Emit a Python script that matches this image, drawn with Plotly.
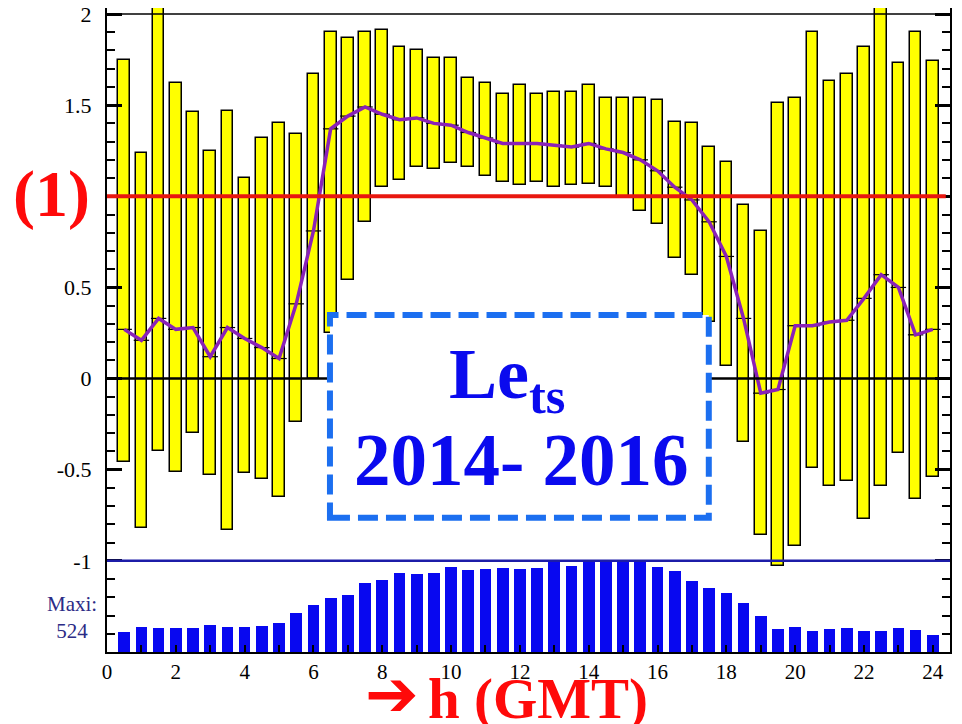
import plotly.graph_objects as go

# half-hour bins (GMT)
hours = [0.5, 1.0, 1.5, 2.0, 2.5, 3.0, 3.5, 4.0, 4.5, 5.0, 5.5, 6.0,
         6.5, 7.0, 7.5, 8.0, 8.5, 9.0, 9.5, 10.0, 10.5, 11.0, 11.5, 12.0,
         12.5, 13.0, 13.5, 14.0, 14.5, 15.0, 15.5, 16.0, 16.5, 17.0, 17.5, 18.0,
         18.5, 19.0, 19.5, 20.0, 20.5, 21.0, 21.5, 22.0, 22.5, 23.0, 23.5, 24.0]

# max / min / mean of Le_ts per bin
le_max = [1.75, 1.24, 2.04, 1.62, 1.46, 1.25, 1.47, 1.10, 1.32, 1.40, 1.34, 1.67,
          1.90, 1.87, 1.90, 1.91, 1.82, 1.80, 1.76, 1.76, 1.65, 1.62, 1.56, 1.61,
          1.56, 1.57, 1.57, 1.61, 1.54, 1.54, 1.54, 1.53, 1.41, 1.40, 1.27, 1.19,
          0.95, 0.81, 1.51, 1.54, 1.90, 1.63, 1.67, 1.82, 2.15, 1.73, 1.90, 1.74]
le_min = [-0.46, -0.82, -0.40, -0.51, -0.30, -0.53, -0.83, -0.52, -0.55, -0.65, -0.24, 0.00,
          0.25, 0.54, 0.86, 1.05, 1.09, 1.16, 1.15, 1.18, 1.16, 1.11, 1.08, 1.06,
          1.08, 1.05, 1.06, 1.07, 1.05, 0.99, 0.92, 0.85, 0.66, 0.57, 0.31, 0.07,
          -0.35, -0.86, -1.03, -0.92, -0.49, -0.59, -0.56, -0.77, -0.59, -0.41, -0.66, -0.54]
le_mean = [0.27, 0.21, 0.33, 0.27, 0.28, 0.12, 0.28, 0.22, 0.17, 0.11, 0.41, 0.81,
           1.37, 1.44, 1.49, 1.45, 1.42, 1.43, 1.40, 1.39, 1.35, 1.32, 1.29, 1.29,
           1.29, 1.28, 1.27, 1.29, 1.26, 1.24, 1.20, 1.14, 1.05, 0.98, 0.86, 0.67,
           0.33, -0.08, -0.06, 0.29, 0.29, 0.31, 0.32, 0.44, 0.57, 0.50, 0.24, 0.27]

# number of samples per bin (max 524)
counts = [115, 144, 138, 138, 138, 156, 144, 144, 150, 167, 225, 270,
          311, 328, 397, 414, 455, 449, 455, 489, 472, 477, 484, 477,
          484, 524, 495, 524, 524, 524, 524, 489, 466, 409, 367, 340,
          282, 208, 133, 144, 121, 133, 138, 121, 121, 138, 127, 98]

y_ticks = [-1, -0.5, 0, 0.5, 1, 1.5, 2]
y_labels = ["-1", "-0.5", "0", "0.5", "1", "1.5", "2"]

Y_BOT, Y_TOP = -1.5, 2.033
SERIF = "Liberation Serif"

max_count = max(counts)
count_h = [c / max_count * 0.5 for c in counts]

fig = go.Figure()

# counts panel at the bottom (-1.5 .. -1)
fig.add_trace(go.Bar(
    x=hours, y=count_h, base=Y_BOT, width=0.34,
    marker=dict(color="#0808f0", line=dict(width=0)),
    showlegend=False, hoverinfo="skip"
))

# yellow min-max bars
fig.add_trace(go.Bar(
    x=hours, y=[hi - lo for hi, lo in zip(le_max, le_min)], base=le_min, width=0.34,
    marker=dict(color="#ffff00", line=dict(color="black", width=1.5)),
    showlegend=False
))

# mean ticks + line
fig.add_trace(go.Scatter(
    x=hours, y=le_mean, mode="markers",
    marker=dict(symbol="line-ew", size=11, line=dict(color="black", width=1.2)),
    showlegend=False
))
fig.add_trace(go.Scatter(
    x=hours, y=le_mean, mode="lines",
    line=dict(color="#8a22b8", width=3.5),
    showlegend=False
))

# reference lines
fig.add_shape(type="line", xref="paper", x0=0, x1=1, y0=2, y1=2,
              line=dict(color="black", width=1.5), layer="above")
fig.add_shape(type="line", xref="paper", x0=0, x1=0.995, y0=1, y1=1,
              line=dict(color="#e8170f", width=4), layer="above")
fig.add_shape(type="line", xref="paper", x0=0, x1=1, y0=0, y1=0,
              line=dict(color="black", width=2.5), layer="above")
fig.add_shape(type="line", xref="paper", x0=0, x1=1, y0=-1, y1=-1,
              line=dict(color="#1c1ca8", width=2.5), layer="above")

# dashed label box
fig.add_shape(type="rect", x0=6.48, x1=17.49, y0=-0.764, y1=0.349,
              line=dict(color="#1c6ff0", width=6, dash="20px,8px"),
              fillcolor="white", layer="above")

fig.add_annotation(x=11.62, y=0.0, xref="x", yref="y",
                   xanchor="center", yanchor="middle",
                   text="<b>Le<sub>ts</sub></b>", showarrow=False,
                   font=dict(family=SERIF, size=72, color="#0a0aee"))
fig.add_annotation(x=12.06, y=-0.451, xref="x", yref="y",
                   xanchor="center", yanchor="middle",
                   text="<b>2014- 2016</b>", showarrow=False,
                   font=dict(family=SERIF, size=73, color="#0a0aee"))

fig.add_annotation(x=-0.0664, y=1.013, xref="paper", yref="y",
                   xanchor="center", yanchor="middle",
                   text="<b>(1)</b>", showarrow=False, bgcolor="white", borderpad=6,
                   font=dict(family=SERIF, size=66, color="#ff0a0a"))
fig.add_annotation(x=-0.0415, y=-1.312, xref="paper", yref="y",
                   xanchor="center", yanchor="middle",
                   text="Maxi:<br>524", showarrow=False,
                   font=dict(family=SERIF, size=21, color="#2b2b86"))

# x-axis caption
fig.add_annotation(x=0.3375, y=-0.0652, xref="paper", yref="paper",
                   xanchor="center", yanchor="middle",
                   text="\u2794", showarrow=False,
                   font=dict(family="DejaVu Sans", size=64, color="#ff0a0a"))
fig.add_annotation(x=0.511, y=-0.073, xref="paper", yref="paper",
                   xanchor="center", yanchor="middle",
                   text="<b>h (GMT)</b>", showarrow=False,
                   font=dict(family=SERIF, size=57, color="#ff0a0a"))

fig.update_layout(
    width=962, height=724, autosize=False,
    margin=dict(l=99, r=20, t=0, b=80),
    plot_bgcolor="white", paper_bgcolor="white",
    barmode="overlay", bargap=0,
    showlegend=False,
    xaxis=dict(
        range=[0, 24.5], tickmode="linear", tick0=0, dtick=2,
        ticks="inside", ticklen=7, tickwidth=1.5, tickcolor="black",
        minor=dict(dtick=1, ticks="inside", ticklen=7, tickwidth=1.5, tickcolor="black"),
        showline=True, linecolor="black", linewidth=2,
        showgrid=False, zeroline=False, automargin=False,
        tickfont=dict(family=SERIF, size=21, color="black")
    ),
    yaxis=dict(
        range=[Y_BOT, Y_TOP], tickmode="array", tickvals=y_ticks, ticktext=y_labels,
        ticks="inside", ticklen=15, tickwidth=3, tickcolor="black",
        minor=dict(tickmode="linear", tick0=0, dtick=0.1, ticks="inside",
                   ticklen=8, tickwidth=1.5, tickcolor="black"),
        showline=True, linecolor="black", linewidth=2, mirror="ticks",
        showgrid=False, zeroline=False, automargin=False,
        ticklabelstandoff=9, ticklabeloverflow="allow",
        tickfont=dict(family=SERIF, size=22, color="black")
    )
)

fig.write_html("out.html")
